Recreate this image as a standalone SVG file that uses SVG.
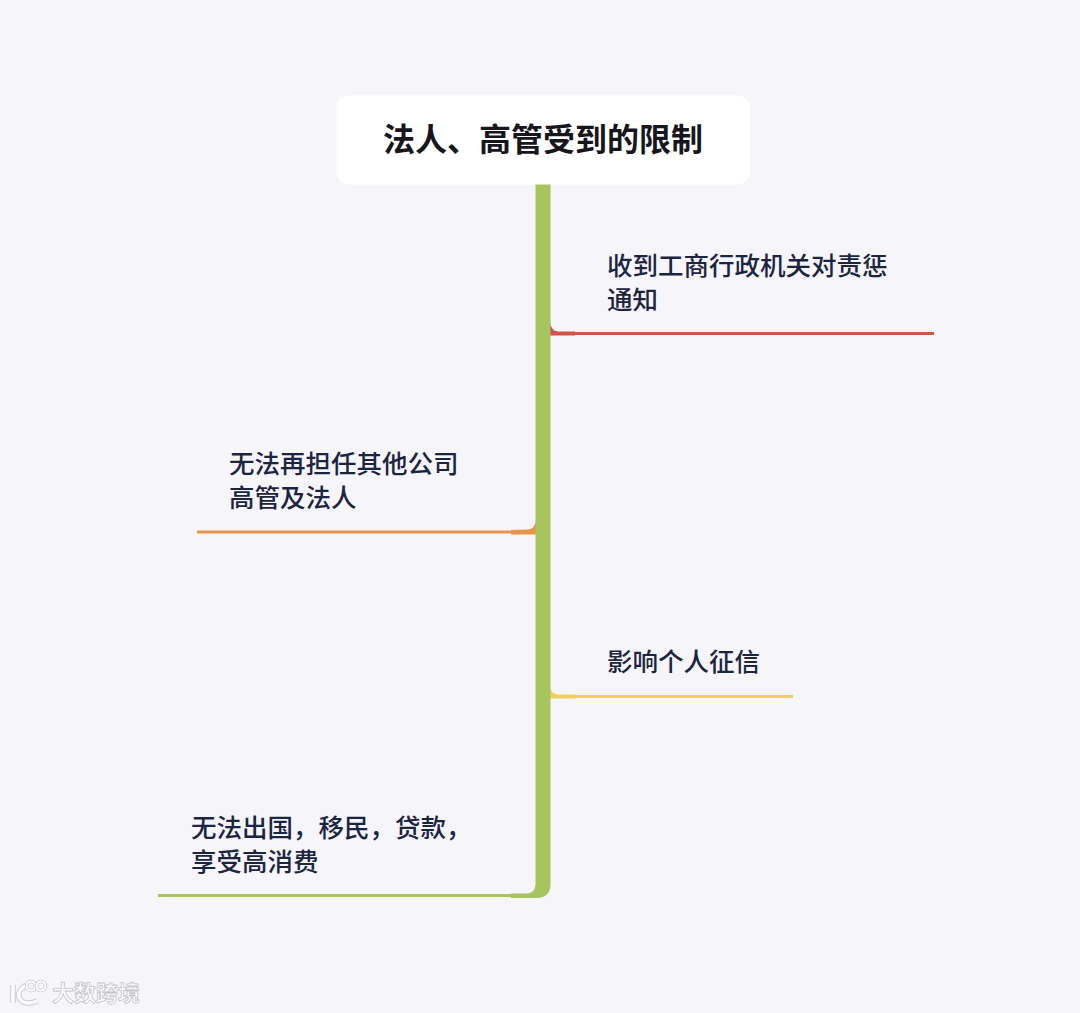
<svg xmlns="http://www.w3.org/2000/svg" width="1080" height="1013" viewBox="0 0 1080 1013">
<style>
text{font-family:"Noto Sans CJK SC","Liberation Sans",sans-serif;fill:#1c2540;font-size:25.5px;font-weight:500}
.title{font-size:32px;font-weight:700;fill:#16161c}
.wm{font-size:22px;font-weight:700;fill:#fff;stroke:#c4c4ca;stroke-width:.8px}
.thin{fill:none;stroke-width:3}
.logo-edge{fill:none;stroke:#c9c9cf}
.logo-core{fill:none;stroke:#fff}
</style>
<defs><path id="logo-k" d="M13 985V1003M26 985Q15 993 20 999Q25 1006 37 1001"/></defs>
<rect width="1080" height="1013" fill="#f6f5fa"/>
<g id="connectors">
<g id="branch-red"><path class="thin" d="M575 333.500H934" stroke="#cf5348"/><path d="M550 322Q551 331 558 331.500L575 331.500V335.500H550Z" fill="#cf5348"/></g>
<g id="branch-orange"><path class="thin" d="M197 532H512" stroke="#e8954b"/><path d="M536 520Q535 529 528 529.500L511 530V534.500H536Z" fill="#e8954b"/></g>
<g id="branch-yellow"><path class="thin" d="M575 696.500H793" stroke="#f0cf62"/><path d="M550 687Q551 694 558 694.500L575 694.500V698.500H550Z" fill="#f0cf62"/></g>
<g id="branch-green"><path class="thin" d="M158 895.500H512" stroke="#a8c45f"/><path d="M535.500 184H550.500V884Q550.500 898 536 898H511V893.500H526Q535.500 893.500 535.500 884Z" fill="#a8c45f"/></g>
</g>
<g id="root"><rect x="336.500" y="95.500" width="413" height="89" rx="12" fill="#fff"/><text class="title" x="543" y="151" text-anchor="middle" textLength="320" lengthAdjust="spacingAndGlyphs">法人、高管受到的限制</text></g>
<g id="node-1"><text x="607" y="274.500">收到工商行政机关对责惩</text><text x="607" y="308.500">通知</text></g>
<g id="node-2"><text x="229" y="472.500">无法再担任其他公司</text><text x="229" y="506.500">高管及法人</text></g>
<g id="node-3"><text x="607" y="671">影响个人征信</text></g>
<g id="node-4"><text x="191" y="836.500">无法出国，移民，贷款，</text><text x="191" y="870.500">享受高消费</text></g>
<g id="watermark"><use href="#logo-k" class="logo-edge" stroke-width="5.500"/><use href="#logo-k" class="logo-core" stroke-width="3.500"/><circle class="logo-edge" cx="31" cy="986" r="4.500" stroke-width="3.500"/><circle class="logo-core" cx="31" cy="986" r="4.500" stroke-width="2"/><circle class="logo-edge" cx="41" cy="986" r="4.500" stroke-width="3.500"/><circle class="logo-core" cx="41" cy="986" r="4.500" stroke-width="2"/><text class="wm" x="52" y="1001">大数跨境</text></g>
</svg>
